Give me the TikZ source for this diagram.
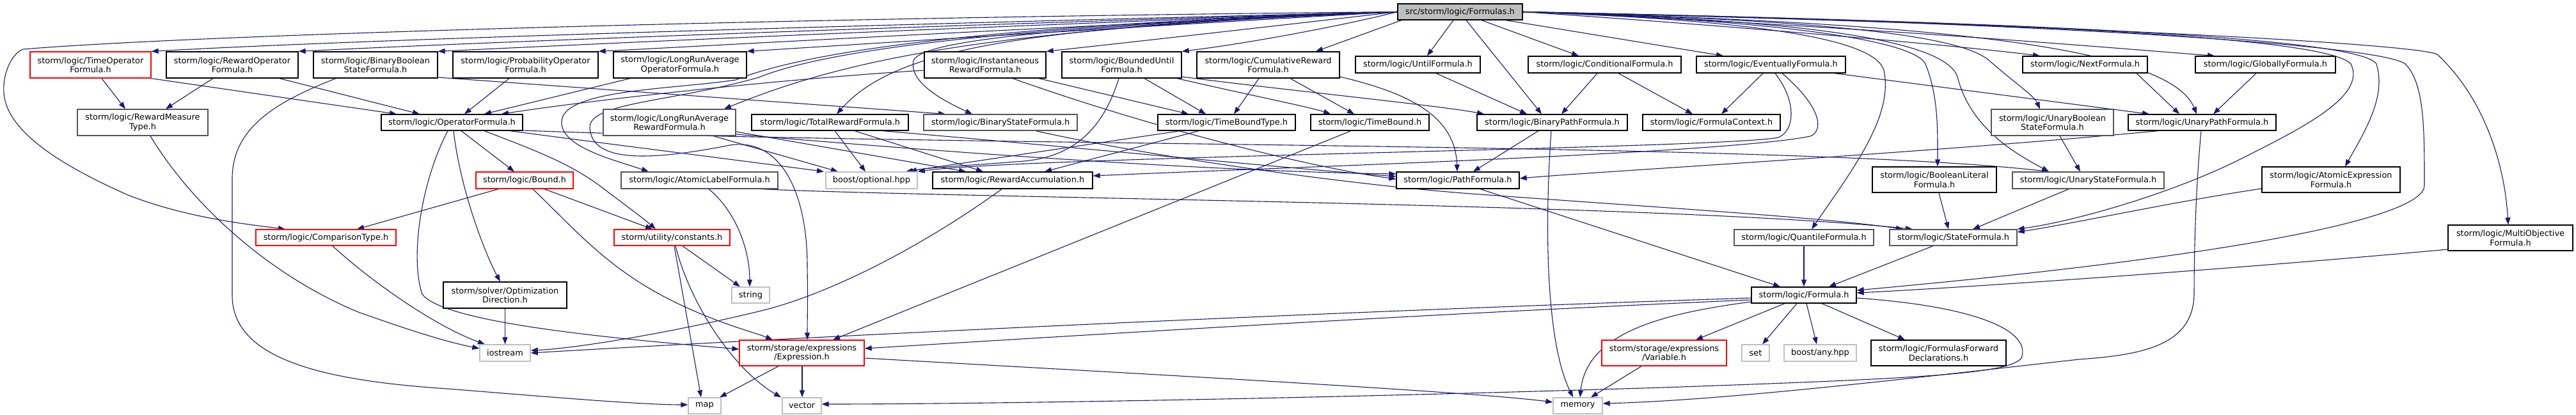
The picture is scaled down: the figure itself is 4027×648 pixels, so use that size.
\documentclass[tikz,border=0pt]{standalone}
\usepackage{fontspec}
\setmainfont{DejaVu Sans}
\usetikzlibrary{arrows.meta}
\pgfdeclarelayer{bg}
\pgfsetlayers{bg,main}
\definecolor{edgec}{HTML}{191970}
\definecolor{gfill}{HTML}{BFBFBF}
\definecolor{gline}{HTML}{BFBFBF}
\definecolor{dline}{HTML}{555555}
\tikzset{
  ed/.style={draw=edgec, line width=1.1pt, -{Triangle[length=11pt,width=8pt]}},
  bk/.style={draw=black, fill=white, line width=1.3pt, inner sep=0pt, align=center,
    font=\fontsize{12.9pt}{14.6pt}\selectfont},
  gy/.style={bk, draw=dline},
  lt/.style={bk, draw=gline},
  rd/.style={bk, draw=red},
  tp/.style={bk, fill=gfill},
}
\newcommand{\nd}[7]{\node[#6, minimum width=#4pt, minimum height=#5pt] (#1) at (#2,#3) {#7};}
\begin{document}
\begin{tikzpicture}[x=1pt,y=-1pt]
\useasboundingbox (0,0) rectangle (4027,648);
% ---------------- nodes
\nd{F}{2282.5}{18.5}{195}{25}{tp}{src/storm/logic/Formulas.h}
\nd{TO}{141.5}{101.5}{189}{41}{rd}{storm/logic/TimeOperator\\Formula.h}
\nd{RO}{363}{101.5}{206}{41}{bk}{storm/logic/RewardOperator\\Formula.h}
\nd{BB}{587}{101.5}{194}{41}{bk}{storm/logic/BinaryBoolean\\StateFormula.h}
\nd{PO}{821.5}{101.5}{227}{41}{bk}{storm/logic/ProbabilityOperator\\Formula.h}
\nd{LO}{1063}{101.5}{208}{41}{bk}{storm/logic/LongRunAverage\\OperatorFormula.h}
\nd{IR}{1540}{101.5}{190}{41}{bk}{storm/logic/Instantaneous\\RewardFormula.h}
\nd{BU}{1753.5}{101.5}{187}{41}{bk}{storm/logic/BoundedUntil\\Formula.h}
\nd{CR}{1982.5}{101.5}{223}{41}{bk}{storm/logic/CumulativeReward\\Formula.h}
\nd{UF}{2216.5}{101}{195}{26}{bk}{storm/logic/UntilFormula.h}
\nd{CF}{2508.5}{101}{239}{26}{bk}{storm/logic/ConditionalFormula.h}
\nd{EF}{2768.5}{101}{233}{26}{bk}{storm/logic/EventuallyFormula.h}
\nd{NF}{3259.5}{101}{195}{26}{bk}{storm/logic/NextFormula.h}
\nd{GF}{3541.5}{101}{219}{26}{bk}{storm/logic/GloballyFormula.h}
\nd{RM}{223}{191.5}{204}{41}{gy}{storm/logic/RewardMeasure\\Type.h}
\nd{OF}{706.5}{191.5}{221}{25}{bk}{storm/logic/OperatorFormula.h}
\nd{LR}{1046.5}{191.5}{207}{41}{gy}{storm/logic/LongRunAverage\\RewardFormula.h}
\nd{TR}{1297.5}{191.5}{245}{25}{bk}{storm/logic/TotalRewardFormula.h}
\nd{BS}{1564}{191.5}{240}{25}{gy}{storm/logic/BinaryStateFormula.h}
\nd{TT}{1917.5}{191.5}{215}{25}{bk}{storm/logic/TimeBoundType.h}
\nd{TB}{2141.5}{191.5}{185}{25}{bk}{storm/logic/TimeBound.h}
\nd{BP}{2426.5}{191.5}{235}{25}{bk}{storm/logic/BinaryPathFormula.h}
\nd{FC}{2675.5}{191.5}{215}{25}{bk}{storm/logic/FormulaContext.h}
\nd{UB}{3208.5}{191.5}{191}{41}{gy}{storm/logic/UnaryBoolean\\StateFormula.h}
\nd{UP}{3442.5}{191.5}{231}{25}{bk}{storm/logic/UnaryPathFormula.h}
\nd{BD}{820}{282}{152}{26}{rd}{storm/logic/Bound.h}
\nd{AL}{1093.5}{282}{245}{26}{gy}{storm/logic/AtomicLabelFormula.h}
\nd{BO}{1362.5}{282}{143}{26}{lt}{boost/optional.hpp}
\nd{RA}{1583}{282}{250}{26}{bk}{storm/logic/RewardAccumulation.h}
\nd{PF}{2279}{282}{192}{26}{bk}{storm/logic/PathFormula.h}
\nd{BL}{3024}{281}{194}{40}{bk}{storm/logic/BooleanLiteral\\Formula.h}
\nd{US}{3264.5}{282}{237}{26}{gy}{storm/logic/UnaryStateFormula.h}
\nd{AE}{3644}{281}{216}{40}{bk}{storm/logic/AtomicExpression\\Formula.h}
\nd{CT}{509.5}{371.5}{219}{25}{rd}{storm/logic/ComparisonType.h}
\nd{CO}{1050.5}{371.5}{181}{25}{rd}{storm/utility/constants.h}
\nd{QF}{2820}{371.5}{218}{25}{gy}{storm/logic/QuantileFormula.h}
\nd{SF}{3053.5}{371.5}{199}{25}{gy}{storm/logic/StateFormula.h}
\nd{MO}{3924.5}{372}{195}{40}{bk}{storm/logic/MultiObjective\\Formula.h}
\nd{OD}{789.5}{461.5}{193}{41}{bk}{storm/solver/Optimization\\Direction.h}
\nd{ST}{1173.5}{461.5}{59}{25}{lt}{string}
\nd{FO}{2820}{461.5}{164}{25}{bk}{storm/logic/Formula.h}
\nd{IO}{789.5}{552}{79}{26}{lt}{iostream}
\nd{EX}{1253.5}{552}{195}{40}{rd}{storm/storage/expressions\\/Expression.h}
\nd{VA}{2601.5}{552}{195}{40}{rd}{storm/storage/expressions\\/Variable.h}
\nd{SE}{2744.5}{552}{43}{26}{lt}{set}
\nd{BA}{2845.5}{552}{113}{26}{lt}{boost/any.hpp}
\nd{FD}{3030.5}{552}{211}{40}{bk}{storm/logic/FormulasForward\\Declarations.h}
\nd{MA}{1101.5}{634.5}{51}{25}{lt}{map}
\nd{VE}{1253.5}{634.5}{61}{25}{lt}{vector}
\nd{ME}{2466.5}{634.5}{77}{25}{lt}{memory}
\begin{pgfonlayer}{bg}
% ---------------- edges from Formulas.h
\draw[ed] (F.west) .. controls (1200,28) and (300,55) .. (36,77) .. controls (18,84) and (4,115) .. (6,145) .. controls (10,210) and (110,265) .. (200,305) .. controls (290,340) and (380,350) .. (CT.north -| 446,0);
\draw[ed] (F.west) .. controls (1400,38) and (600,60) .. (TO.north east);
\draw[ed] (F.west) .. controls (1450,40) and (750,66) .. (RO.north east);
\draw[ed] (F.west) .. controls (1500,42) and (900,70) .. (BB.north east);
\draw[ed] (F.west) .. controls (1600,44) and (1100,72) .. (PO.north east);
\draw[ed] (F.west) .. controls (1700,46) and (1300,72) .. (LO.north east);
\draw[ed] (F.west) .. controls (2000,40) and (1750,68) .. (IR.north east);
\draw[ed] (F.west) .. controls (2100,40) and (1950,68) .. (BU.north east);
\draw[ed] (F.west) .. controls (1550,45) and (1330,90) .. (LR.north -| 1132,0);
\draw[ed] (F.west) .. controls (1600,42) and (1400,75) .. (TR.north -| 1308,0);
\draw[ed] (F.west) .. controls (1700,40) and (1440,60) .. (1428,95) .. controls (1420,130) and (1480,160) .. (BS.north -| 1520,0);
\draw[ed] (F.west) .. controls (1500,40) and (1250,85) .. (1150,125) .. controls (1050,140) and (880,140) .. (878,190) .. controls (876,230) and (960,250) .. (AL.north -| 1014,0);
\draw[ed] (F.west) .. controls (1600,40) and (1300,75) .. (1186,121) .. controls (1050,160) and (920,160) .. (922,200) .. controls (925,250) and (1000,255) .. (1141,227) .. controls (1220,215) and (1262,300) .. (1262,417) .. controls (1263,470) and (1262,500) .. (EX.north -| 1262,0);
\draw[ed] (F.south -| 2191,0) -- (CR.north -| 2057,0);
\draw[ed] (F.south -| 2272,0) -- (UF.north -| 2231,0);
\draw[ed] (F.south -| 2292,0) -- (BP.north -| 2410,0);
\draw[ed] (F.south -| 2316,0) -- (CF.north -| 2468,0);
\draw[ed] (F.south -| 2354,0) -- (EF.north -| 2694,0);
\draw[ed] (F.east) .. controls (2700,40) and (3050,70) .. (NF.north -| 3189,0);
\draw[ed] (F.east) .. controls (2900,40) and (3300,75) .. (GF.north -| 3462,0);
\draw[ed] (F.east) .. controls (3000,35) and (3390,70) .. (UP.north -| 3434,0);
\draw[ed] (F.east) .. controls (2800,30) and (3060,50) .. (3110,95) .. controls (3150,130) and (3180,150) .. (UB.north -| 3189,0);
\draw[ed] (F.east) .. controls (2800,30) and (3040,60) .. (3060,120) .. controls (3080,200) and (3150,240) .. (US.north -| 3203,0);
\draw[ed] (F.east) .. controls (2750,30) and (2990,60) .. (3010,100) .. controls (3030,150) and (3029,200) .. (BL.north -| 3029,0);
\draw[ed] (F.east) .. controls (2700,30) and (2930,55) .. (2945,110) .. controls (2960,180) and (2900,260) .. (QF.north -| 2832,0);
\draw[ed] (F.east) .. controls (3200,35) and (3720,70) .. (3760,100) .. controls (3790,130) and (3790,200) .. (3790,290) .. controls (3790,340) and (3500,400) .. (FO.east |- 0,454);
\draw[ed] (F.east) .. controls (3200,35) and (3640,60) .. (3675,100) .. controls (3700,150) and (3600,200) .. (3500,250) .. controls (3400,300) and (3250,345) .. (SF.north east);
\draw[ed] (F.east) .. controls (3200,35) and (3690,60) .. (3715,100) .. controls (3730,150) and (3700,200) .. (AE.north -| 3666,0);
\draw[ed] (F.east) .. controls (3300,40) and (3780,70) .. (3810,85) .. controls (3880,150) and (3915,250) .. (MO.north -| 3921,0);
% ---------------- left part
\draw[ed] (TO.south -| 159,0) -- (RM.north -| 196,0);
\draw[ed] (RO.south -| 333,0) -- (RM.north -| 259,0);
\draw[ed] (TO.south east) -- (OF.north -| 620,0);
\draw[ed] (RO.south -| 437,0) -- (OF.north -| 656,0);
\draw[ed] (PO.south -| 796,0) -- (OF.north -| 726,0);
\draw[ed] (LO.south -| 985,0) -- (OF.north -| 757,0);
\draw[ed] (IR.west |- 0,110) .. controls (1200,125) and (900,160) .. (OF.north -| 784,0);
\draw[ed] (BB.south -| 525,0) .. controls (430,160) and (363,200) .. (363,280) -- (363,462) .. controls (363,560) and (500,595) .. (700,608) .. controls (850,620) and (1000,633) .. (MA.west |- 0,633);
\draw[ed] (BB.east |- 0,121) -- (BS.north -| 1478,0);
\draw[ed] (RM.south -| 235,0) .. controls (300,320) and (420,430) .. (560,488) .. controls (650,520) and (700,535) .. (IO.west |- 0,545);
\draw[ed] (CT.south -| 520,0) .. controls (580,440) and (680,510) .. (IO.north -| 758,0);
\draw[ed] (OF.south -| 721,0) -- (BD.north -| 804,0);
\draw[ed] (OF.south -| 709,0) .. controls (720,300) and (760,400) .. (OD.north -| 782,0);
\draw[ed] (OF.south -| 757,0) .. controls (850,240) and (900,260) .. (950,300) .. controls (990,330) and (1010,345) .. (CO.north -| 1025,0);
\draw[ed] (OF.south -| 700,0) .. controls (660,280) and (640,400) .. (660,460) .. controls (690,500) and (900,525) .. (EX.west |- 0,546);
\draw[ed] (OF.south -| 797,0) .. controls (950,225) and (1150,250) .. (BO.north -| 1288,0);
\draw[ed] (OF.east |- 0,204) .. controls (1500,230) and (2800,222) .. (US.north -| 3203,0);
\draw[ed] (BD.south -| 779,0) -- (CT.north -| 558,0);
\draw[ed] (BD.south -| 851,0) -- (CO.north -| 1020,0);
\draw[ed] (BD.south -| 833,0) .. controls (900,360) and (950,420) .. (1050,470) .. controls (1120,505) and (1180,520) .. (EX.north -| 1208,0);
\draw[ed] (AL.south -| 1108,0) .. controls (1150,330) and (1172,390) .. (ST.north -| 1172,0);
\draw[ed] (AL.south -| 1190,0) .. controls (1500,310) and (2600,318) .. (SF.north -| 2990,0);
\draw[ed] (CO.south -| 1067,0) -- (ST.north -| 1157,0);
\draw[ed] (CO.south -| 1054,0) -- (MA.north -| 1096,0);
\draw[ed] (CO.south -| 1056,0) .. controls (1080,480) and (1150,580) .. (VE.north -| 1221,0);
\draw[ed] (OD.south) -- (IO.north);
\draw[ed] (EX.south -| 1217,0) -- (MA.north -| 1125,0);
\draw[ed] (EX.south -| 1254,0) -- (VE.north -| 1254,0);
\draw[ed] (EX.east |- 0,560) .. controls (1700,580) and (2300,612) .. (ME.west |- 0,629);
% ---------------- middle part
\draw[ed] (LR.south -| 1115,0) -- (BO.north -| 1310,0);
\draw[ed] (LR.east |- 0,210) .. controls (1500,240) and (1900,268) .. (PF.west |- 0,272);
\draw[ed] (LR.east |- 0,206) -- (RA.north -| 1510,0);
\draw[ed] (TR.south -| 1305,0) -- (BO.north -| 1353,0);
\draw[ed] (TR.south -| 1336,0) -- (RA.north -| 1537,0);
\draw[ed] (TR.south -| 1380,0) .. controls (1700,232) and (2000,262) .. (PF.west |- 0,276);
\draw[ed] (BS.south -| 1619,0) .. controls (1800,245) and (2100,288) .. (2300,303) .. controls (2600,325) and (2850,340) .. (SF.north -| 2975,0);
\draw[ed] (IR.south -| 1624,0) -- (TT.north -| 1858,0);
\draw[ed] (IR.south -| 1583,0) .. controls (1800,200) and (2050,262) .. (PF.west |- 0,280);
\draw[ed] (BU.south -| 1789,0) -- (TT.north -| 1885,0);
\draw[ed] (BU.south -| 1840,0) .. controls (1950,148) and (2050,168) .. (TB.north -| 2080,0);
\draw[ed] (BU.east |- 0,120) .. controls (2000,140) and (2250,165) .. (BP.north -| 2320,0);
\draw[ed] (BU.south -| 1749,0) .. controls (1725,200) and (1680,245) .. (1600,252) .. controls (1500,260) and (1450,262) .. (BO.north -| 1422,0);
\draw[ed] (CR.south -| 1968,0) -- (TT.north -| 1929,0);
\draw[ed] (CR.south -| 2017,0) -- (TB.north -| 2117,0);
\draw[ed] (CR.east |- 0,120) .. controls (2200,145) and (2275,180) .. (PF.north -| 2278,0);
\draw[ed] (TT.south -| 1845,0) -- (BO.north -| 1416,0);
\draw[ed] (TT.south -| 1874,0) -- (RA.north -| 1633,0);
\draw[ed] (TB.south -| 2112,0) -- (EX.north -| 1302,0);
\draw[ed] (RA.south -| 1566,0) .. controls (1450,380) and (1300,460) .. (1186,487) .. controls (1050,520) and (900,545) .. (IO.east |- 0,548);
% ---------------- right part
\draw[ed] (UF.south -| 2245,0) -- (BP.north -| 2387,0);
\draw[ed] (CF.south -| 2497,0) -- (BP.north -| 2441,0);
\draw[ed] (CF.south -| 2530,0) -- (FC.north -| 2646,0);
\draw[ed] (BP.south -| 2405,0) -- (PF.north -| 2303,0);
\draw[ed] (BP.south -| 2425,0) .. controls (2418,300) and (2410,520) .. (ME.north -| 2459,0);
\draw[ed] (EF.south -| 2756,0) -- (FC.north -| 2691,0);
\draw[ed] (EF.south -| 2868,0) -- (UP.north -| 3360,0);
\draw[ed] (EF.south -| 2775,0) .. controls (2810,160) and (2805,205) .. (2780,215) .. controls (2700,232) and (1600,245) .. (BO.north east);
\draw[ed] (EF.south -| 2786,0) .. controls (2850,170) and (2850,205) .. (2830,213) .. controls (2700,240) and (2000,262) .. (RA.east |- 0,275);
\draw[ed] (NF.south -| 3340,0) -- (UP.north -| 3407,0);
\draw[ed] (GF.south -| 3527,0) -- (UP.north -| 3460,0);
\draw[ed] (UB.south -| 3220,0) -- (US.north -| 3252,0);
\draw[ed] (UP.south -| 3374,0) .. controls (3000,240) and (2500,268) .. (PF.east |- 0,279);
\draw[ed] (UP.south -| 3441,0) .. controls (3432,300) and (3430,400) .. (3430,458) .. controls (3430,540) and (3350,555) .. (3250,562) .. controls (3000,590) and (2700,626) .. (ME.east |- 0,631);
\draw[ed] (US.south -| 3234,0) -- (SF.north -| 3084,0);
\draw[ed] (BL.south -| 3031,0) -- (SF.north -| 3046,0);
\draw[ed] (AE.west |- 0,295) .. controls (3400,315) and (3250,348) .. (SF.east |- 0,363);
\draw[ed] (MO.west |- 0,390) .. controls (3500,420) and (3100,448) .. (FO.east |- 0,458);
\draw[ed] (QF.south) -- (FO.north);
\draw[ed] (SF.south -| 3022,0) -- (FO.north -| 2859,0);
\draw[ed] (PF.south -| 2314,0) -- (FO.north -| 2783,0);
\draw[ed] (FO.south -| 2790,0) -- (VA.north -| 2651,0);
\draw[ed] (FO.south -| 2809,0) -- (SE.north -| 2755,0);
\draw[ed] (FO.south -| 2824,0) -- (BA.north -| 2840,0);
\draw[ed] (FO.south -| 2848,0) -- (FD.north -| 2978,0);
\draw[ed] (FO.west |- 0,472) .. controls (2600,490) and (2480,520) .. (ME.north -| 2470,0);
\draw[ed] (FO.west |- 0,466) .. controls (2000,490) and (1200,530) .. (IO.east |- 0,552);
\draw[ed] (FO.west |- 0,469) .. controls (2200,492) and (1600,530) .. (EX.east |- 0,545);
\draw[ed] (FO.east |- 0,466) .. controls (3100,480) and (3175,520) .. (3160,560) .. controls (3140,585) and (3000,592) .. (2600,606) .. controls (2000,625) and (1500,632) .. (VE.east |- 0,632);
\draw[ed] (VA.south -| 2566,0) -- (ME.north -| 2487,0);
\end{pgfonlayer}
\end{tikzpicture}
\end{document}
